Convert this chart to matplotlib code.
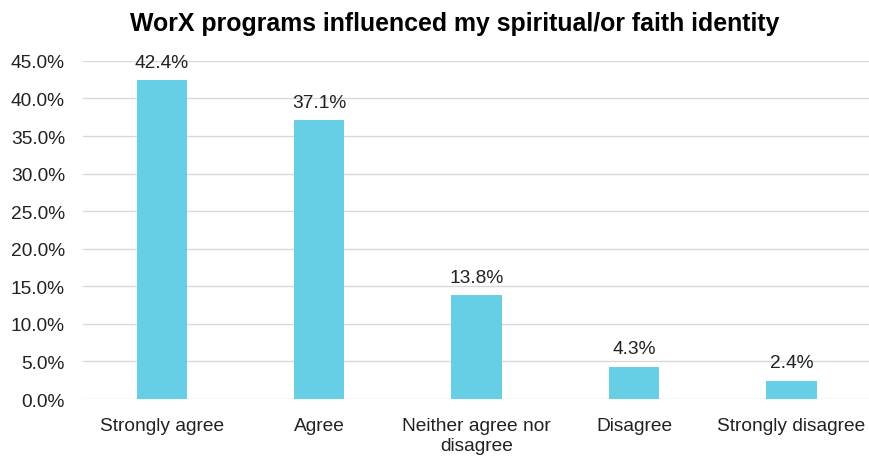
import matplotlib.pyplot as plt
import numpy as np

categories = ['Strongly agree', 'Agree', 'Neither agree nor\ndisagree', 'Disagree', 'Strongly disagree']
values = [42.4, 37.1, 13.8, 4.3, 2.4]
yticks = [0, 5, 10, 15, 20, 25, 30, 35, 40, 45]

plt.rcParams['font.family'] = ['Liberation Sans', 'DejaVu Sans']

fig = plt.figure(figsize=(8.7, 4.6), dpi=100)
ax = fig.add_axes([0.0954, 0.1304, 0.905, 0.735])

x = np.arange(len(categories))
ax.bar(x, values, width=0.32, color='#66CFE6', zorder=3)
for xi, v in zip(x, values):
    ax.text(xi, v + 1.3, f'{v:.1f}%', ha='center', va='bottom', fontsize=13.8, color='#222222')

ax.set_xlim(-0.5, len(categories) - 0.5)
ax.set_ylim(0, 45)
ax.set_yticks(yticks)
ax.set_yticklabels([f'{t:.1f}%' for t in yticks], fontsize=13.8, color='#222222')
ax.set_xticks(x)
ax.set_xticklabels(categories, fontsize=13.8, color='#222222', linespacing=1.25)
ax.grid(axis='y', color='#d9d9d9', linewidth=1, zorder=0)
ax.tick_params(axis='y', length=0, pad=13)
ax.tick_params(axis='x', length=0, pad=13)
for s in ax.spines.values():
    s.set_visible(False)

fig.text(0.523, 0.948, 'WorX programs influenced my spiritual/or faith identity',
         ha='center', va='center', fontsize=17.9, fontweight='bold')

fig.savefig('out.png', dpi=100)
